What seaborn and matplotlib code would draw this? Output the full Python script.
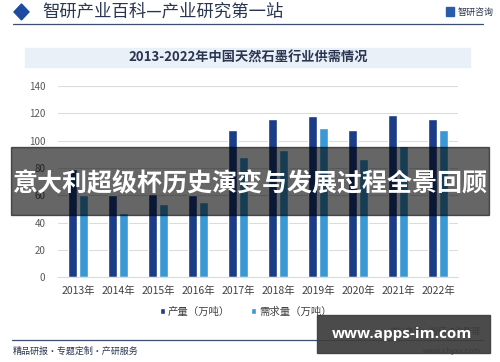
import matplotlib
matplotlib.use("Agg")
import matplotlib.pyplot as plt
from matplotlib.patches import Rectangle, Polygon
import seaborn as sns
import pandas as pd

# values
years = ['2013年', '2014年', '2015年', '2016年', '2017年',
         '2018年', '2019年', '2020年', '2021年', '2022年']
production = [79, 60, 61, 60, 108, 116, 118, 108, 119, 116]
demand = [60, 47, 54, 55, 88, 93, 109, 87, 96, 108]
series_names = ['产量（万吨）', '需求量（万吨）']
y_ticks = [0, 20, 40, 60, 80, 100, 120, 140]

data = pd.DataFrame({
    'year': years * 2,
    'value': production + demand,
    'series': [series_names[0]] * len(years) + [series_names[1]] * len(years),
})

sns.set_style("white")
plt.rcParams['font.family'] = ['Noto Sans CJK SC', 'DejaVu Sans']

fig = plt.figure(figsize=(5, 3.62), dpi=100)
fig.patch.set_facecolor('white')

# header
fig.patches.append(Polygon([[0.028, 0.967], [0.043, 0.989], [0.058, 0.967], [0.043, 0.945]],
                           closed=True, transform=fig.transFigure, color='#1e4aa0'))
fig.text(0.085, 0.967, '智研产业百科—产业研究第一站', fontsize=12.5, color='#2a3550',
         va='center', ha='left', fontweight='medium')
fig.patches.append(Rectangle((0.892, 0.955), 0.016, 0.026, transform=fig.transFigure,
                             color='#2a5caa'))
fig.text(0.915, 0.966, '智研咨询', fontsize=6.5, color='#2a3550', va='center', ha='left')
fig.add_artist(plt.Line2D([0.026, 0.966], [0.933, 0.933], transform=fig.transFigure,
                          color='#3d4f70', lw=0.9))

# title box
fig.patches.append(Rectangle((0.05, 0.816), 0.89, 0.052, transform=fig.transFigure,
                             color='#eaf0f8', zorder=0))
fig.text(0.496, 0.842, '2013-2022年中国天然石墨行业供需情况', fontsize=9.5,
         color='#2a3550', fontweight='bold', ha='center', va='center')

# chart
ax = fig.add_axes([0.116, 0.234, 0.8, 0.528])
sns.barplot(data=data, x='year', y='value', hue='series',
            palette=['#1b3c87', '#3a98d5'], width=0.55, gap=0.2,
            saturation=1, ax=ax, legend=True)
ax.set_ylim(0, 140)
ax.set_yticks(y_ticks)
ax.yaxis.grid(True, color='#dcdcdc', lw=0.8)
ax.set_axisbelow(True)
ax.set_xlabel('')
ax.set_ylabel('')
for s in ax.spines.values():
    s.set_visible(False)
ax.spines['bottom'].set_visible(True)
ax.spines['bottom'].set_color('#dcdcdc')
ax.tick_params(axis='y', length=0, labelsize=7, labelcolor='#595959', pad=9)
ax.tick_params(axis='x', length=0, labelsize=7.5, labelcolor='#404040', pad=6)
ax.legend(loc='upper center', bbox_to_anchor=(0.47, -0.105), ncol=2, frameon=False,
          fontsize=7.5, handlelength=0.5, handleheight=0.5, handletextpad=0.3,
          columnspacing=2.0, labelcolor='#404040')

# footer
fig.add_artist(plt.Line2D([0.024, 0.966], [0.061, 0.061], transform=fig.transFigure,
                          color='#3d4f70', lw=0.9))
fig.text(0.026, 0.030, '精品研报・专题定制・产研服务', fontsize=6.5, color='#2a3550',
         va='center', ha='left')
fig.text(0.962, 0.064 + 0.02, '资料来源：智研咨询整理', fontsize=6, color='#2a3550',
         va='center', ha='right')
fig.text(0.962, 0.030, 'www.chyxx.com', fontsize=5.5, color='#2a3550',
         va='center', ha='right')

# overlays
fig.patches.append(Rectangle((0.022, 0.406), 0.955, 0.188, transform=fig.transFigure,
                             color='black', alpha=0.6, zorder=5))
fig.text(0.5, 0.492, '意大利超级杯历史演变与发展过程全景回顾', fontsize=18, color='white',
         fontweight='bold', ha='center', va='center', zorder=6)
fig.patches.append(Rectangle((0.634, 0.025), 0.346, 0.105, transform=fig.transFigure,
                             color='#3c3c3c', alpha=0.92, zorder=5))
fig.text(0.805, 0.078, 'www.apps-im.com', fontsize=11, color='white',
         fontweight='bold', ha='center', va='center', zorder=6,
         family=['Open Sans', 'DejaVu Sans'])

fig.savefig('out.png', dpi=100)
